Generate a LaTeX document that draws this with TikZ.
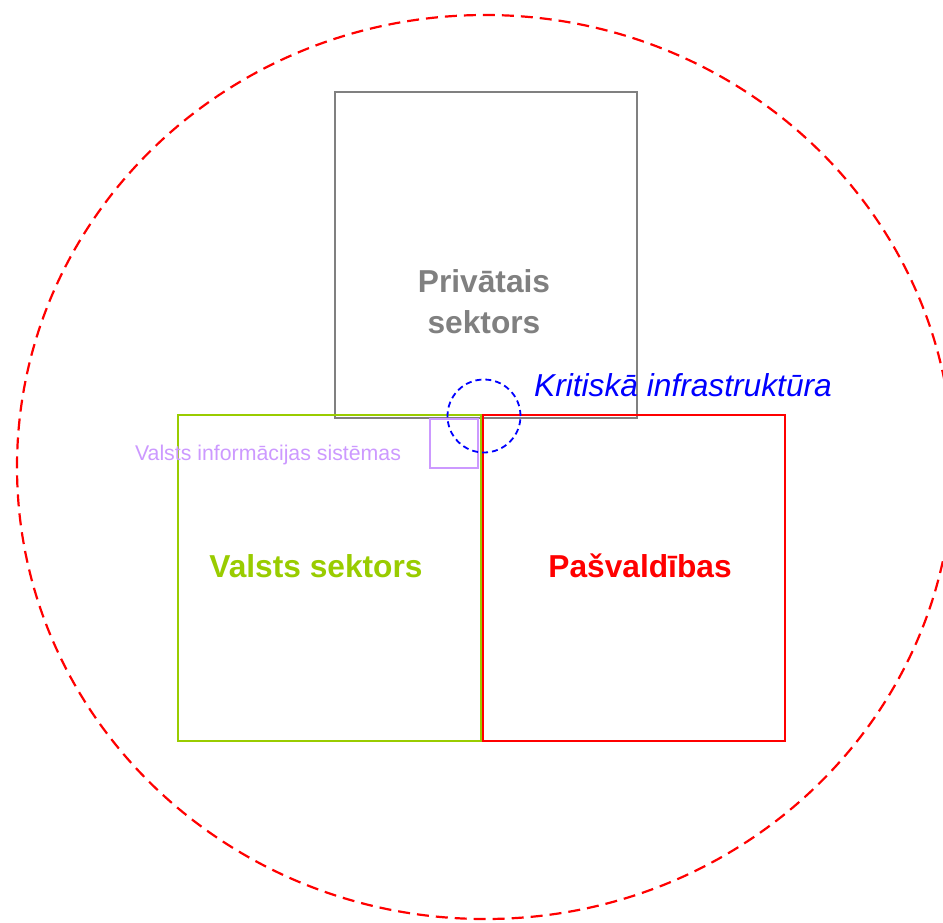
\documentclass[tikz,border=0pt]{standalone}
\usepackage{fontspec}
\setmainfont{Liberation Sans}
\definecolor{cgray}{HTML}{808080}
\definecolor{cgreen}{HTML}{99CC00}
\definecolor{clav}{HTML}{CC99FF}
\begin{document}
\begin{tikzpicture}[x=1pt,y=-1pt,
  boxsq/.style={draw, line width=1.8pt, inner sep=0pt, anchor=north west},
  bigtxt/.style={font=\fontsize{31.7}{41}\selectfont\bfseries, align=center, inner sep=0pt}]
\useasboundingbox (0,0) rectangle (943,922);
\draw[red, line width=2.2pt, dash pattern=on 12pt off 7pt] (485,467) ellipse [x radius=468, y radius=452];
\node[boxsq, draw=cgray, minimum width=302pt, minimum height=326pt] (priv) at (334,91) {};
\node[boxsq, draw=cgreen, minimum width=303pt, minimum height=326pt] (valsts) at (177,414) {};
\node[boxsq, draw=red, minimum width=302pt, minimum height=326pt] (pasv) at (482,414) {};
\node[boxsq, draw=clav, minimum width=48pt, minimum height=49pt] (vis) at (429,418) {};
\node[draw=blue, line width=1.8pt, dash pattern=on 6pt off 4pt, circle, minimum size=73pt, inner sep=0pt] (ki) at (484,416) {};
\node[bigtxt, text=cgray] (privt) at (484,302) {Privātais\\sektors};
\node[bigtxt, text=cgreen] (valstst) at (316,566) {Valsts sektors};
\node[bigtxt, text=red] (pasvt) at (640,566) {Pašvaldības};
\node[font=\fontsize{31.7}{38}\selectfont\itshape, text=blue, inner sep=0pt] (kit) at (683,385) {Kritiskā infrastruktūra};
\node[font=\fontsize{21.3}{26}\selectfont, text=clav, inner sep=0pt] (vist) at (268,455) {Valsts informācijas sistēmas};
\end{tikzpicture}
\end{document}
